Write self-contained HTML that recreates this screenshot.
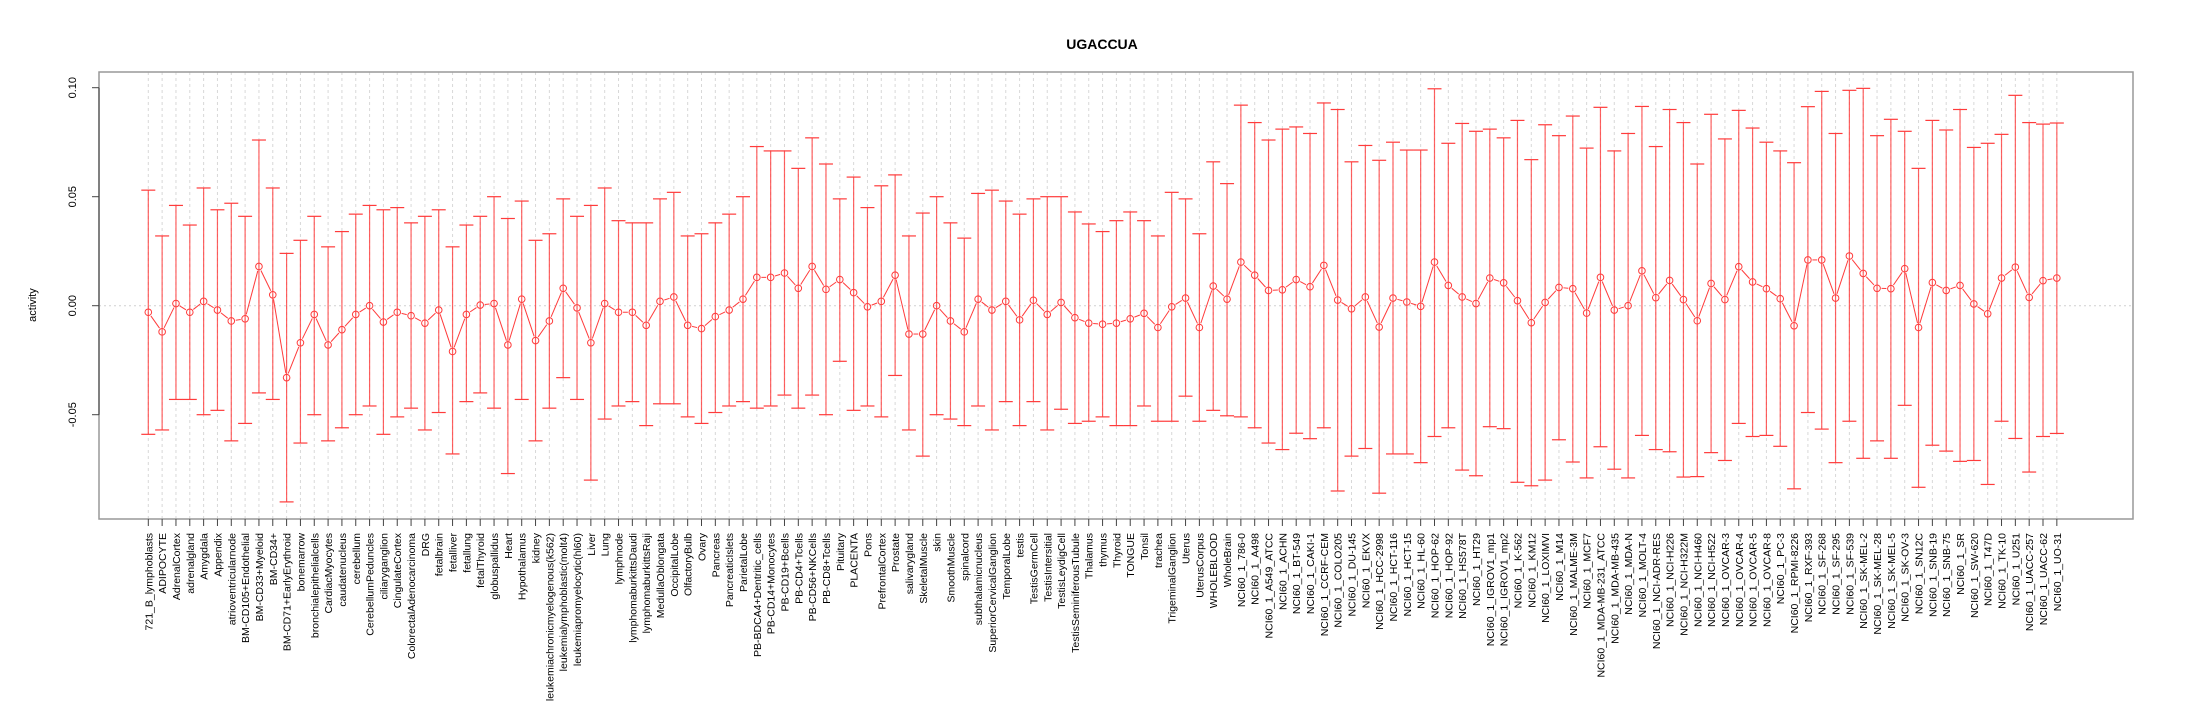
<!DOCTYPE html>
<html><head><meta charset="utf-8"><style>
body{margin:0;background:#fff;}
svg{display:block;font-family:"Liberation Sans",sans-serif;}
</style></head><body>
<svg id="chart" width="2205" height="720" viewBox="0 0 2205 720" xmlns="http://www.w3.org/2000/svg">
<rect x="0" y="0" width="2205" height="720" fill="#fff"/>
<text x="1102" y="49" font-size="14" font-weight="bold" text-anchor="middle">UGACCUA</text>
<text transform="translate(36,305) rotate(-90)" font-size="11" text-anchor="middle">activity</text>
<g id="grid"></g>
<g id="marks"></g>
<g id="axes"></g>
</svg>
<script>
const categories = ["721_B_lymphoblasts","ADIPOCYTE","AdrenalCortex","adrenalgland","Amygdala","Appendix","atrioventricularnode","BM-CD105+Endothelial","BM-CD33+Myeloid","BM-CD34+","BM-CD71+EarlyErythroid","bonemarrow","bronchialepithelialcells","CardiacMyocytes","caudatenucleus","cerebellum","CerebellumPeduncles","ciliaryganglion","CingulateCortex","ColorectalAdenocarcinoma","DRG","fetalbrain","fetalliver","fetallung","fetalThyroid","globuspallidus","Heart","Hypothalamus","kidney","leukemiachronicmyelogenous(k562)","leukemialymphoblastic(molt4)","leukemiapromyelocytic(hl60)","Liver","Lung","lymphnode","lymphomaburkittsDaudi","lymphomaburkittsRaji","MedullaOblongata","OccipitalLobe","OlfactoryBulb","Ovary","Pancreas","PancreaticIslets","ParietalLobe","PB-BDCA4+Dentritic_cells","PB-CD14+Monocytes","PB-CD19+Bcells","PB-CD4+Tcells","PB-CD56+NKCells","PB-CD8+Tcells","Pituitary","PLACENTA","Pons","PrefrontalCortex","Prostate","salivarygland","SkeletalMuscle","skin","SmoothMuscle","spinalcord","subthalamicnucleus","SuperiorCervicalGanglion","TemporalLobe","testis","TestisGermCell","TestisIntersitial","TestisLeydigCell","TestisSeminiferousTubule","Thalamus","thymus","Thyroid","TONGUE","Tonsil","trachea","TrigeminalGanglion","Uterus","UterusCorpus","WHOLEBLOOD","WholeBrain","NCI60_1_786-0","NCI60_1_A498","NCI60_1_A549_ATCC","NCI60_1_ACHN","NCI60_1_BT-549","NCI60_1_CAKI-1","NCI60_1_CCRF-CEM","NCI60_1_COLO205","NCI60_1_DU-145","NCI60_1_EKVX","NCI60_1_HCC-2998","NCI60_1_HCT-116","NCI60_1_HCT-15","NCI60_1_HL-60","NCI60_1_HOP-62","NCI60_1_HOP-92","NCI60_1_HS578T","NCI60_1_HT29","NCI60_1_IGROV1_mp1","NCI60_1_IGROV1_mp2","NCI60_1_K-562","NCI60_1_KM12","NCI60_1_LOXIMVI","NCI60_1_M14","NCI60_1_MALME-3M","NCI60_1_MCF7","NCI60_1_MDA-MB-231_ATCC","NCI60_1_MDA-MB-435","NCI60_1_MDA-N","NCI60_1_MOLT-4","NCI60_1_NCI-ADR-RES","NCI60_1_NCI-H226","NCI60_1_NCI-H322M","NCI60_1_NCI-H460","NCI60_1_NCI-H522","NCI60_1_OVCAR-3","NCI60_1_OVCAR-4","NCI60_1_OVCAR-5","NCI60_1_OVCAR-8","NCI60_1_PC-3","NCI60_1_RPMI-8226","NCI60_1_RXF-393","NCI60_1_SF-268","NCI60_1_SF-295","NCI60_1_SF-539","NCI60_1_SK-MEL-2","NCI60_1_SK-MEL-28","NCI60_1_SK-MEL-5","NCI60_1_SK-OV-3","NCI60_1_SN12C","NCI60_1_SNB-19","NCI60_1_SNB-75","NCI60_1_SR","NCI60_1_SW-620","NCI60_1_T47D","NCI60_1_TK-10","NCI60_1_U251","NCI60_1_UACC-257","NCI60_1_UACC-62","NCI60_1_UO-31"];
const meanValues = [-0.003,-0.012,0.001,-0.003,0.002,-0.002,-0.007,-0.006,0.018,0.005,-0.033,-0.017,-0.004,-0.018,-0.011,-0.004,0,-0.0075,-0.003,-0.0046,-0.008,-0.002,-0.021,-0.004,0.0003,0.001,-0.018,0.003,-0.016,-0.007,0.008,-0.001,-0.017,0.001,-0.003,-0.003,-0.009,0.002,0.004,-0.009,-0.0105,-0.005,-0.002,0.003,0.013,0.013,0.015,0.008,0.018,0.0075,0.012,0.006,-0.0005,0.002,0.014,-0.013,-0.013,0,-0.007,-0.012,0.003,-0.002,0.002,-0.0065,0.0025,-0.004,0.0015,-0.0055,-0.008,-0.0085,-0.008,-0.006,-0.0035,-0.010,-0.0005,0.0035,-0.010,0.009,0.003,0.020,0.014,0.007,0.0073,0.012,0.0087,0.0185,0.0026,-0.0014,0.004,-0.0098,0.0035,0.0017,-0.0003,0.020,0.0093,0.004,0.001,0.0127,0.0105,0.0023,-0.0078,0.0015,0.0084,0.0078,-0.0034,0.013,-0.002,0,0.016,0.0037,0.0116,0.0028,-0.0069,0.0102,0.0028,0.0179,0.0109,0.0078,0.0032,-0.0092,0.021,0.021,0.0035,0.0228,0.0148,0.008,0.0078,0.017,-0.010,0.0106,0.007,0.0093,0.0008,-0.0037,0.0127,0.0177,0.0038,0.0115,0.0127];
const upperValues = [0.053,0.032,0.046,0.037,0.054,0.044,0.047,0.041,0.076,0.054,0.024,0.030,0.041,0.027,0.034,0.042,0.046,0.044,0.045,0.038,0.041,0.044,0.027,0.037,0.041,0.050,0.040,0.048,0.030,0.033,0.049,0.041,0.046,0.054,0.039,0.038,0.038,0.049,0.052,0.032,0.033,0.038,0.042,0.050,0.073,0.071,0.071,0.063,0.077,0.065,0.049,0.059,0.045,0.055,0.060,0.032,0.0425,0.050,0.038,0.031,0.0515,0.053,0.048,0.042,0.049,0.050,0.050,0.043,0.0375,0.034,0.039,0.043,0.039,0.032,0.052,0.049,0.033,0.066,0.056,0.092,0.084,0.076,0.081,0.082,0.079,0.093,0.090,0.066,0.0735,0.0667,0.075,0.0714,0.0714,0.0995,0.0745,0.0836,0.080,0.081,0.077,0.085,0.067,0.083,0.078,0.087,0.0723,0.091,0.071,0.079,0.0914,0.073,0.090,0.084,0.065,0.0878,0.0765,0.0896,0.0815,0.075,0.071,0.0656,0.0913,0.0983,0.079,0.0988,0.0997,0.078,0.0855,0.080,0.063,0.085,0.0806,0.090,0.0726,0.0745,0.0786,0.0965,0.084,0.0833,0.0838];
const lowerValues = [-0.059,-0.057,-0.043,-0.043,-0.050,-0.048,-0.062,-0.054,-0.040,-0.043,-0.090,-0.063,-0.050,-0.062,-0.056,-0.050,-0.046,-0.059,-0.051,-0.047,-0.057,-0.049,-0.068,-0.044,-0.040,-0.047,-0.077,-0.043,-0.062,-0.047,-0.033,-0.043,-0.080,-0.052,-0.046,-0.044,-0.055,-0.045,-0.045,-0.051,-0.054,-0.049,-0.046,-0.044,-0.047,-0.046,-0.041,-0.047,-0.041,-0.050,-0.0255,-0.048,-0.046,-0.051,-0.032,-0.057,-0.069,-0.050,-0.052,-0.055,-0.046,-0.057,-0.044,-0.055,-0.044,-0.057,-0.0475,-0.054,-0.053,-0.051,-0.055,-0.055,-0.046,-0.053,-0.053,-0.0415,-0.053,-0.048,-0.0505,-0.051,-0.056,-0.063,-0.066,-0.0585,-0.061,-0.056,-0.085,-0.069,-0.0655,-0.086,-0.068,-0.068,-0.072,-0.060,-0.056,-0.0754,-0.078,-0.0555,-0.0564,-0.081,-0.0826,-0.080,-0.0615,-0.0717,-0.079,-0.0647,-0.075,-0.079,-0.0595,-0.066,-0.067,-0.0786,-0.0784,-0.0674,-0.071,-0.054,-0.060,-0.0595,-0.0645,-0.084,-0.049,-0.0566,-0.072,-0.053,-0.070,-0.062,-0.070,-0.0457,-0.0833,-0.064,-0.0667,-0.0714,-0.071,-0.082,-0.053,-0.0609,-0.0763,-0.060,-0.0586];
const yTicks = [-0.05, 0.00, 0.05, 0.10];
const yTickLabels = ["-0.05","0.00","0.05","0.10"];

const NS = "http://www.w3.org/2000/svg";
const plotL = 99, plotR = 2133, plotT = 72, plotB = 519;
const x0 = 148.3, dx = 13.83;
function xScale(i){ return x0 + i*dx; }
function yScale(v){ return 305.7 - v*2180; }
function mk(tag, attrs, parent){
  const e = document.createElementNS(NS, tag);
  for (const k in attrs) e.setAttribute(k, attrs[k]);
  parent.appendChild(e);
  return e;
}
const grid = document.getElementById('grid');
const marks = document.getElementById('marks');
const axes = document.getElementById('axes');
const red = "#ff3b3b";

// vertical gridlines
categories.forEach((c,i)=>{
  const l = mk('line',{x1:xScale(i),x2:xScale(i),y1:plotT,y2:plotB,stroke:"#d8d8d8","stroke-width":1,"stroke-dasharray":"3,3"},grid);
  
  
});
const zl = mk('line',{x1:plotL,x2:plotR,y1:yScale(0),y2:yScale(0),stroke:"#d0d0d0","stroke-width":1,"stroke-dasharray":"2,3"},grid);



// error bars
categories.forEach((c,i)=>{
  const x = xScale(i), yu = yScale(upperValues[i]), yl = yScale(lowerValues[i]);
  const g = mk('g',{},marks);
  
  
  mk('line',{x1:x,x2:x,y1:yu,y2:yl,stroke:red,"stroke-width":1.2,"stroke-opacity":0.8},g);
  mk('line',{x1:x-7,x2:x+7,y1:yu,y2:yu,stroke:red,"stroke-width":1.2},g);
  mk('line',{x1:x-7,x2:x+7,y1:yl,y2:yl,stroke:red,"stroke-width":1.2},g);
});
// connecting segments (type b: gaps around points)
for (let i=0;i<categories.length-1;i++){
  const xa=xScale(i), ya=yScale(meanValues[i]), xb=xScale(i+1), yb=yScale(meanValues[i+1]);
  const dxs=xb-xa, dys=yb-ya, len=Math.hypot(dxs,dys), g=4.5;
  if (len<=2*g) continue;
  const ux=dxs/len, uy=dys/len;
  const s = mk('line',{x1:xa+ux*g,y1:ya+uy*g,x2:xb-ux*g,y2:yb-uy*g,stroke:red,"stroke-width":1},marks);
  
  
}
// points
categories.forEach((c,i)=>{
  const p = mk('circle',{cx:xScale(i),cy:yScale(meanValues[i]),r:3.3,fill:"none",stroke:red,"stroke-width":1},marks);
  
  
});

// box
const box = mk('rect',{x:plotL,y:plotT,width:plotR-plotL,height:plotB-plotT,fill:"none",stroke:"#999","stroke-width":1.5},axes);


// y axis
const ya = mk('line',{x1:plotL,x2:plotL,y1:yScale(yTicks[yTicks.length-1]),y2:yScale(yTicks[0]),stroke:"#666","stroke-width":1.5},axes);


yTicks.forEach((t,i)=>{
  const y=yScale(t);
  const tk = mk('line',{x1:plotL-7,x2:plotL,y1:y,y2:y,stroke:"#444","stroke-width":1},axes);
  
  
  const tl = mk('text',{transform:`translate(76,${y}) rotate(-90)`,"font-size":11,"text-anchor":"middle"},axes);
  tl.textContent = yTickLabels[i];
  
  
});
// x ticks and labels
categories.forEach((c,i)=>{
  const x=xScale(i);
  const tk = mk('line',{x1:x,x2:x,y1:plotB,y2:plotB+7,stroke:"#444","stroke-width":1},axes);
  
  
  const tl = mk('text',{transform:`translate(${x+4},533) rotate(-90)`,"font-size":10.5,"text-anchor":"end"},axes);
  tl.textContent = c;
  
  
});
</script>
</body></html>
